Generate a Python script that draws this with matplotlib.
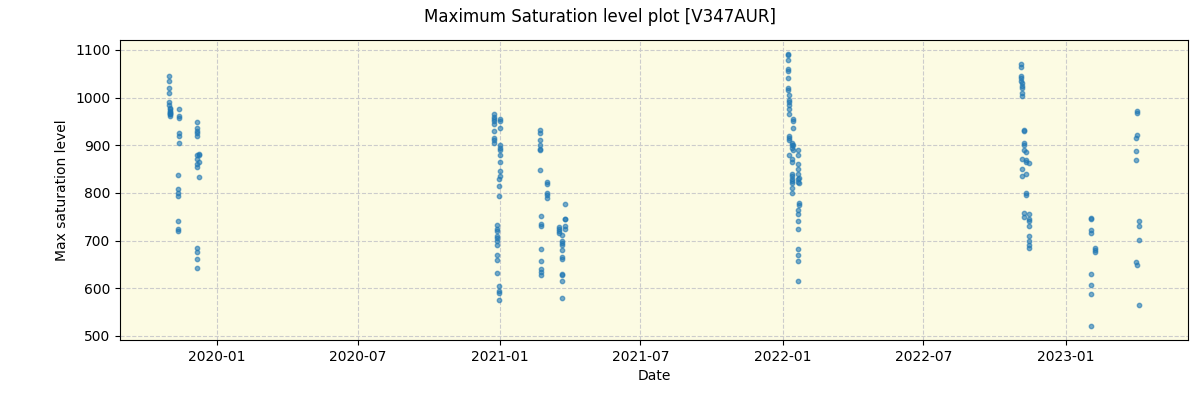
import matplotlib
matplotlib.use("Agg")
import matplotlib.pyplot as plt
import matplotlib.dates as mdates
import pandas as pd

# observation nights (date, saturation levels) per season
nights_2019 = ["2019-10-31", "2019-11-02", "2019-11-13", "2019-11-12", "2019-12-07", "2019-12-09"]
sat_2019 = [
    [1045, 1035, 1020, 1010, 990, 985],
    [975, 970, 965, 962, 968, 978, 972, 965],
    [975, 962, 958, 925, 920, 905],
    [838, 808, 800, 793, 740, 725, 720],
    [948, 935, 930, 925, 920, 880, 870, 860, 855, 685, 675, 662, 643],
    [882, 880, 865, 833],
]

nights_2021 = ["2020-12-24", "2020-12-28", "2020-12-30", "2021-01-01", "2021-02-22",
               "2021-02-23", "2021-03-02", "2021-03-18", "2021-03-22", "2021-03-26"]
sat_2021 = [
    [965, 960, 955, 950, 945, 930, 915, 910, 905],
    [732, 725, 720, 710, 705, 700, 690, 670, 660, 632],
    [605, 595, 590, 575, 793, 815, 830],
    [955, 950, 935, 900, 895, 890, 880, 865, 845, 835],
    [932, 925, 910, 900, 893, 890, 848],
    [752, 735, 730, 682, 657, 640, 635, 628],
    [822, 818, 800, 795, 790],
    [728, 725, 720, 715],
    [712, 700, 695, 690, 680, 665, 662, 630, 628, 615, 580],
    [777, 745, 745, 730, 725],
]

nights_2022 = ["2022-01-07", "2022-01-09", "2022-01-12", "2022-01-14", "2022-01-20", "2022-01-22"]
sat_2022 = [
    [1092, 1090, 1078, 1060, 1055, 1040, 1020, 1015],
    [1005, 995, 990, 985, 975, 965, 920, 915, 910, 880],
    [905, 900, 895, 870, 865, 840, 835, 830, 825, 820, 810, 800],
    [955, 950, 935, 900, 890],
    [890, 880, 860, 850, 840, 830, 822, 725, 740, 755, 765, 683, 670, 657, 615],
    [778, 775, 832, 820],
]

nights_2023 = ["2022-11-04", "2022-11-06", "2022-11-08", "2022-11-10", "2022-11-15",
               "2023-02-03", "2023-02-07", "2023-04-01", "2023-04-03", "2023-04-06"]
sat_2023 = [
    [1070, 1065, 1045, 1040, 1035],
    [1030, 1025, 1020, 1010, 1003, 870, 850, 835],
    [932, 930, 905, 900, 890, 757, 750],
    [885, 868, 865, 840, 800, 795],
    [862, 755, 745, 740, 730, 710, 700, 690, 685],
    [748, 745, 722, 715, 630, 607, 587, 520],
    [685, 680, 675],
    [915, 888, 868, 655],
    [972, 968, 922, 648],
    [742, 730, 702, 565],
]

dates = []
values = []
for nights, sats in [(nights_2019, sat_2019), (nights_2021, sat_2021),
                     (nights_2022, sat_2022), (nights_2023, sat_2023)]:
    for d, vals in zip(nights, sats):
        dates += [pd.Timestamp(d)] * len(vals)
        values += vals

fig, ax = plt.subplots(figsize=(12, 4), dpi=100)
ax.set_facecolor("#fcfbe3")
ax.scatter(dates, values, s=10, color="tab:blue", alpha=0.6, zorder=3)
ax.grid(True, linestyle="--", color="#cccccc", zorder=0)
ax.set_xlabel("Date")
ax.set_ylabel("Max saturation level")
ax.xaxis.set_major_locator(mdates.MonthLocator(bymonth=[1, 7]))
ax.xaxis.set_major_formatter(mdates.DateFormatter("%Y-%m"))
fig.suptitle("Maximum Saturation level plot [V347AUR]")
fig.subplots_adjust(left=0.1, right=0.99, top=0.9, bottom=0.15)
plt.savefig("out.png")
